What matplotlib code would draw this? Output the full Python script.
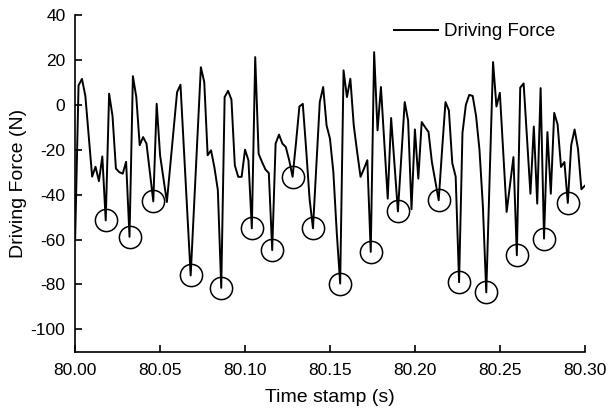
import numpy as np
import matplotlib
matplotlib.use("Agg")
import matplotlib.pyplot as plt

plt.rcParams["font.family"] = ["Liberation Sans", "DejaVu Sans"]
plt.rcParams["font.size"] = 13.5
plt.rcParams["axes.unicode_minus"] = False

# Sampled every 2 ms from 80.00 s to 80.30 s
T_START = 80.00
T_STEP = 0.002
force = [
    -60, 8.6, 11.5, 4, -14, -32, -27.6, -34, -23, -51.5,
    4.9, -5, -28.4, -30, -30.7, -25.4, -58.8, 12.7, 3.4, -18,
    -14.4, -17.3, -30, -43, 0.4, -22.5, -33, -43.3, -27, -11,
    5.6, 8.9, -19.4, -47.7, -76, -45, -14, 16.7, 10.1, -22.5,
    -20.3, -28, -38, -81.5, 3.4, 6.2, 2.3, -27, -32.1, -32.1,
    -20, -24.7, -55, 21.2, -21.8, -25.5, -28.8, -30.4, -64.7, -17.3,
    -13.3, -17.3, -18.8, -24.7, -32.1, -17, -0.8, 0.4, -20, -42,
    -55, -27, 1.2, 7.9, -9.2, -15.1, -30, -57, -79.6, 15.3,
    3.4, 11.6, -9.2, -21, -32.1, -28.5, -24.7, -65.5, 23.4, -11.4,
    7.9, -17, -41.8, -5.9, -27, -47.5, -23, 1.2, -7, -46.5,
    -11, -32.9, -7.7, -10, -12.1, -25.5, -34, -42.5, -20, 1.2,
    -2.5, -26, -32, -79, -12.5, 0, 4.4, 3.9, -5, -20,
    -45, -83.5, -32, 19, -0.8, 5.3, -21, -47.7, -35.5, -23.3,
    -67, 7.6, 9.5, -15, -39.6, -9.7, -44, 7.4, -59.6, -12.2,
    -39.6, -3.6, -8.8, -27.7, -25.5, -43.7, -18, -11, -19.6, -37.6,
    -36.1,
]
# local minima that are circled in the figure
trough_idx = [9, 16, 23, 34, 43, 52, 58, 64, 70, 78, 87, 95, 107, 113, 121, 130, 138, 145]

x_ticks = [80.00, 80.05, 80.10, 80.15, 80.20, 80.25, 80.30]
y_ticks = [40, 20, 0, -20, -40, -60, -80, -100]

force = np.array(force)
t = T_START + T_STEP * np.arange(len(force))

fig = plt.figure(figsize=(6.06, 4.13), dpi=100)
ax = fig.add_axes([0.124, 0.148, 0.841, 0.816])

ax.plot(t, force, color="black", linewidth=1.4, label="Driving Force")
ax.plot(t[trough_idx], force[trough_idx], linestyle="none", marker="o",
        markersize=16, markerfacecolor="none", markeredgecolor="black",
        markeredgewidth=1.1)

ax.set_xlim(80.0, 80.3)
ax.set_ylim(-110, 40)
ax.set_xticks(x_ticks)
ax.set_xticklabels([f"{v:.2f}" for v in x_ticks])
ax.set_yticks(y_ticks)

for side in ("top", "right"):
    ax.spines[side].set_visible(False)
for side in ("left", "bottom"):
    ax.spines[side].set_linewidth(1.2)
ax.tick_params(direction="in", length=5, width=1.2, labelsize=12.5)
ax.tick_params(axis="x", pad=8)
ax.tick_params(axis="y", pad=7)

ax.set_xlabel("Time stamp (s)", fontsize=14, labelpad=8)
ax.set_ylabel("Driving Force (N)", fontsize=14, labelpad=3)

ax.legend(loc="upper right", bbox_to_anchor=(0.975, 1.025), frameon=False,
          handlelength=2.35, handletextpad=0.3, fontsize=13.5)

fig.savefig("out.png", dpi=100)
